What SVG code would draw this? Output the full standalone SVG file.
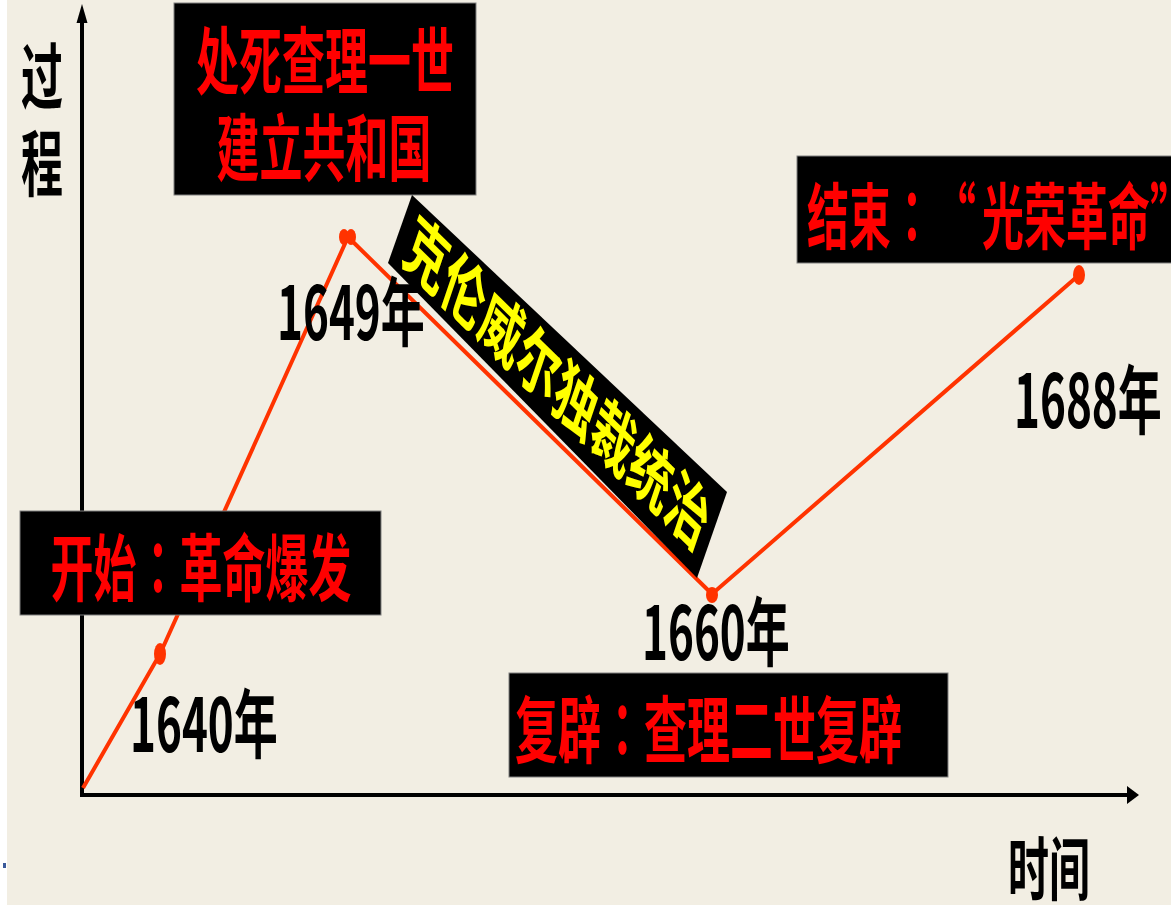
<svg xmlns="http://www.w3.org/2000/svg" width="1171" height="906" viewBox="0 0 1171 906">
<style>
.t{font-family:"Noto Sans CJK SC","Noto Sans",sans-serif;font-weight:bold}
.jp{font-family:"Noto Sans CJK JP","Noto Sans CJK SC",sans-serif}
.red{fill:#FF0000}
.blk{fill:#000000}
.box{fill:#000000;stroke:#808080;stroke-width:1}
.ax{stroke:#000000;stroke-width:4;fill:none}
.curve{stroke:#FF3300;stroke-width:4;fill:none;stroke-linejoin:round}
.dot{fill:#FF3300}
</style>
<rect x="0" y="0" width="1171" height="906" fill="#FFFFFF"/>
<rect x="7" y="0" width="1164" height="905" fill="#F2EEE3"/>
<rect x="3" y="863" width="3" height="5" fill="#3A5A9A"/>

<g id="axes">
<line class="ax" x1="82" y1="797" x2="82" y2="20"/>
<polygon fill="#000" points="82,4 87.5,23 76.5,23"/>
<line class="ax" x1="80" y1="795" x2="1130" y2="795"/>
<polygon fill="#000" points="1139,795 1127,786 1127,804"/>
<text class="t blk" font-size="42" transform="translate(21,103) scale(1,1.7)">过</text>
<text class="t blk" font-size="42" transform="translate(21,190) scale(1,1.7)">程</text>
<text class="t blk" font-size="41" transform="translate(1008,895) scale(1,1.7)">时间</text>
</g>

<g id="connectors">
<polyline class="curve" points="83,788 160,654 348,237 712,594 1079,275"/>
<ellipse class="dot" cx="160" cy="654" rx="6" ry="11"/>
<ellipse class="dot" cx="344" cy="237" rx="5" ry="8"/>
<ellipse class="dot" cx="351" cy="237" rx="5" ry="8"/>
<ellipse class="dot" cx="712" cy="595" rx="6" ry="8"/>
<ellipse class="dot" cx="1079" cy="275" rx="6" ry="10"/>
</g>

<g id="y1640"><text class="t blk" font-size="44" transform="translate(130,752) scale(1,1.7)">1640年</text></g>
<g id="y1649"><text class="t blk" font-size="44" transform="translate(277,340) scale(1,1.7)">1649年</text></g>
<g id="y1660"><text class="t blk" font-size="44" transform="translate(642,660) scale(1,1.7)">1660年</text></g>
<g id="y1688"><text class="t blk" font-size="44" transform="translate(1014,428) scale(1,1.7)">1688年</text></g>

<g id="start">
<rect class="box" x="20" y="511" width="361" height="104"/>
<text class="t red" font-size="43" text-anchor="middle" transform="translate(201,595) scale(1,1.7)">开始<tspan class="jp">：</tspan>革命爆发</text>
</g>

<g id="execution">
<rect class="box" x="174" y="3" width="302" height="192"/>
<text class="t red" font-size="43" text-anchor="middle" transform="translate(325,88) scale(1,1.7)">处死查理一世</text>
<text class="t red" font-size="43" text-anchor="middle" transform="translate(324,175) scale(1,1.7)">建立共和国</text>
</g>

<g id="cromwell">
<polygon fill="#000" points="412,195 727,492 697,578 388,263"/>
<g transform="translate(557,384) scale(1,1.7) rotate(30)">
<text class="t" fill="#FFFF00" font-size="43" text-anchor="middle" x="0" y="15">克伦威尔独裁统治</text>
</g>
</g>

<g id="restoration">
<rect class="box" x="509" y="673" width="439" height="104"/>
<text class="t red" font-size="43" transform="translate(515,757) scale(1,1.7)">复辟<tspan class="jp">：</tspan>查理二世复辟</text>
</g>

<g id="end">
<rect class="box" x="797" y="156" width="380" height="107"/>
<text class="t red" font-size="42" transform="translate(807,243) scale(1,1.7)">结束<tspan class="jp">：</tspan><tspan dx="22">“</tspan><tspan dx="6">光荣革命”</tspan></text>
</g>
</svg>
